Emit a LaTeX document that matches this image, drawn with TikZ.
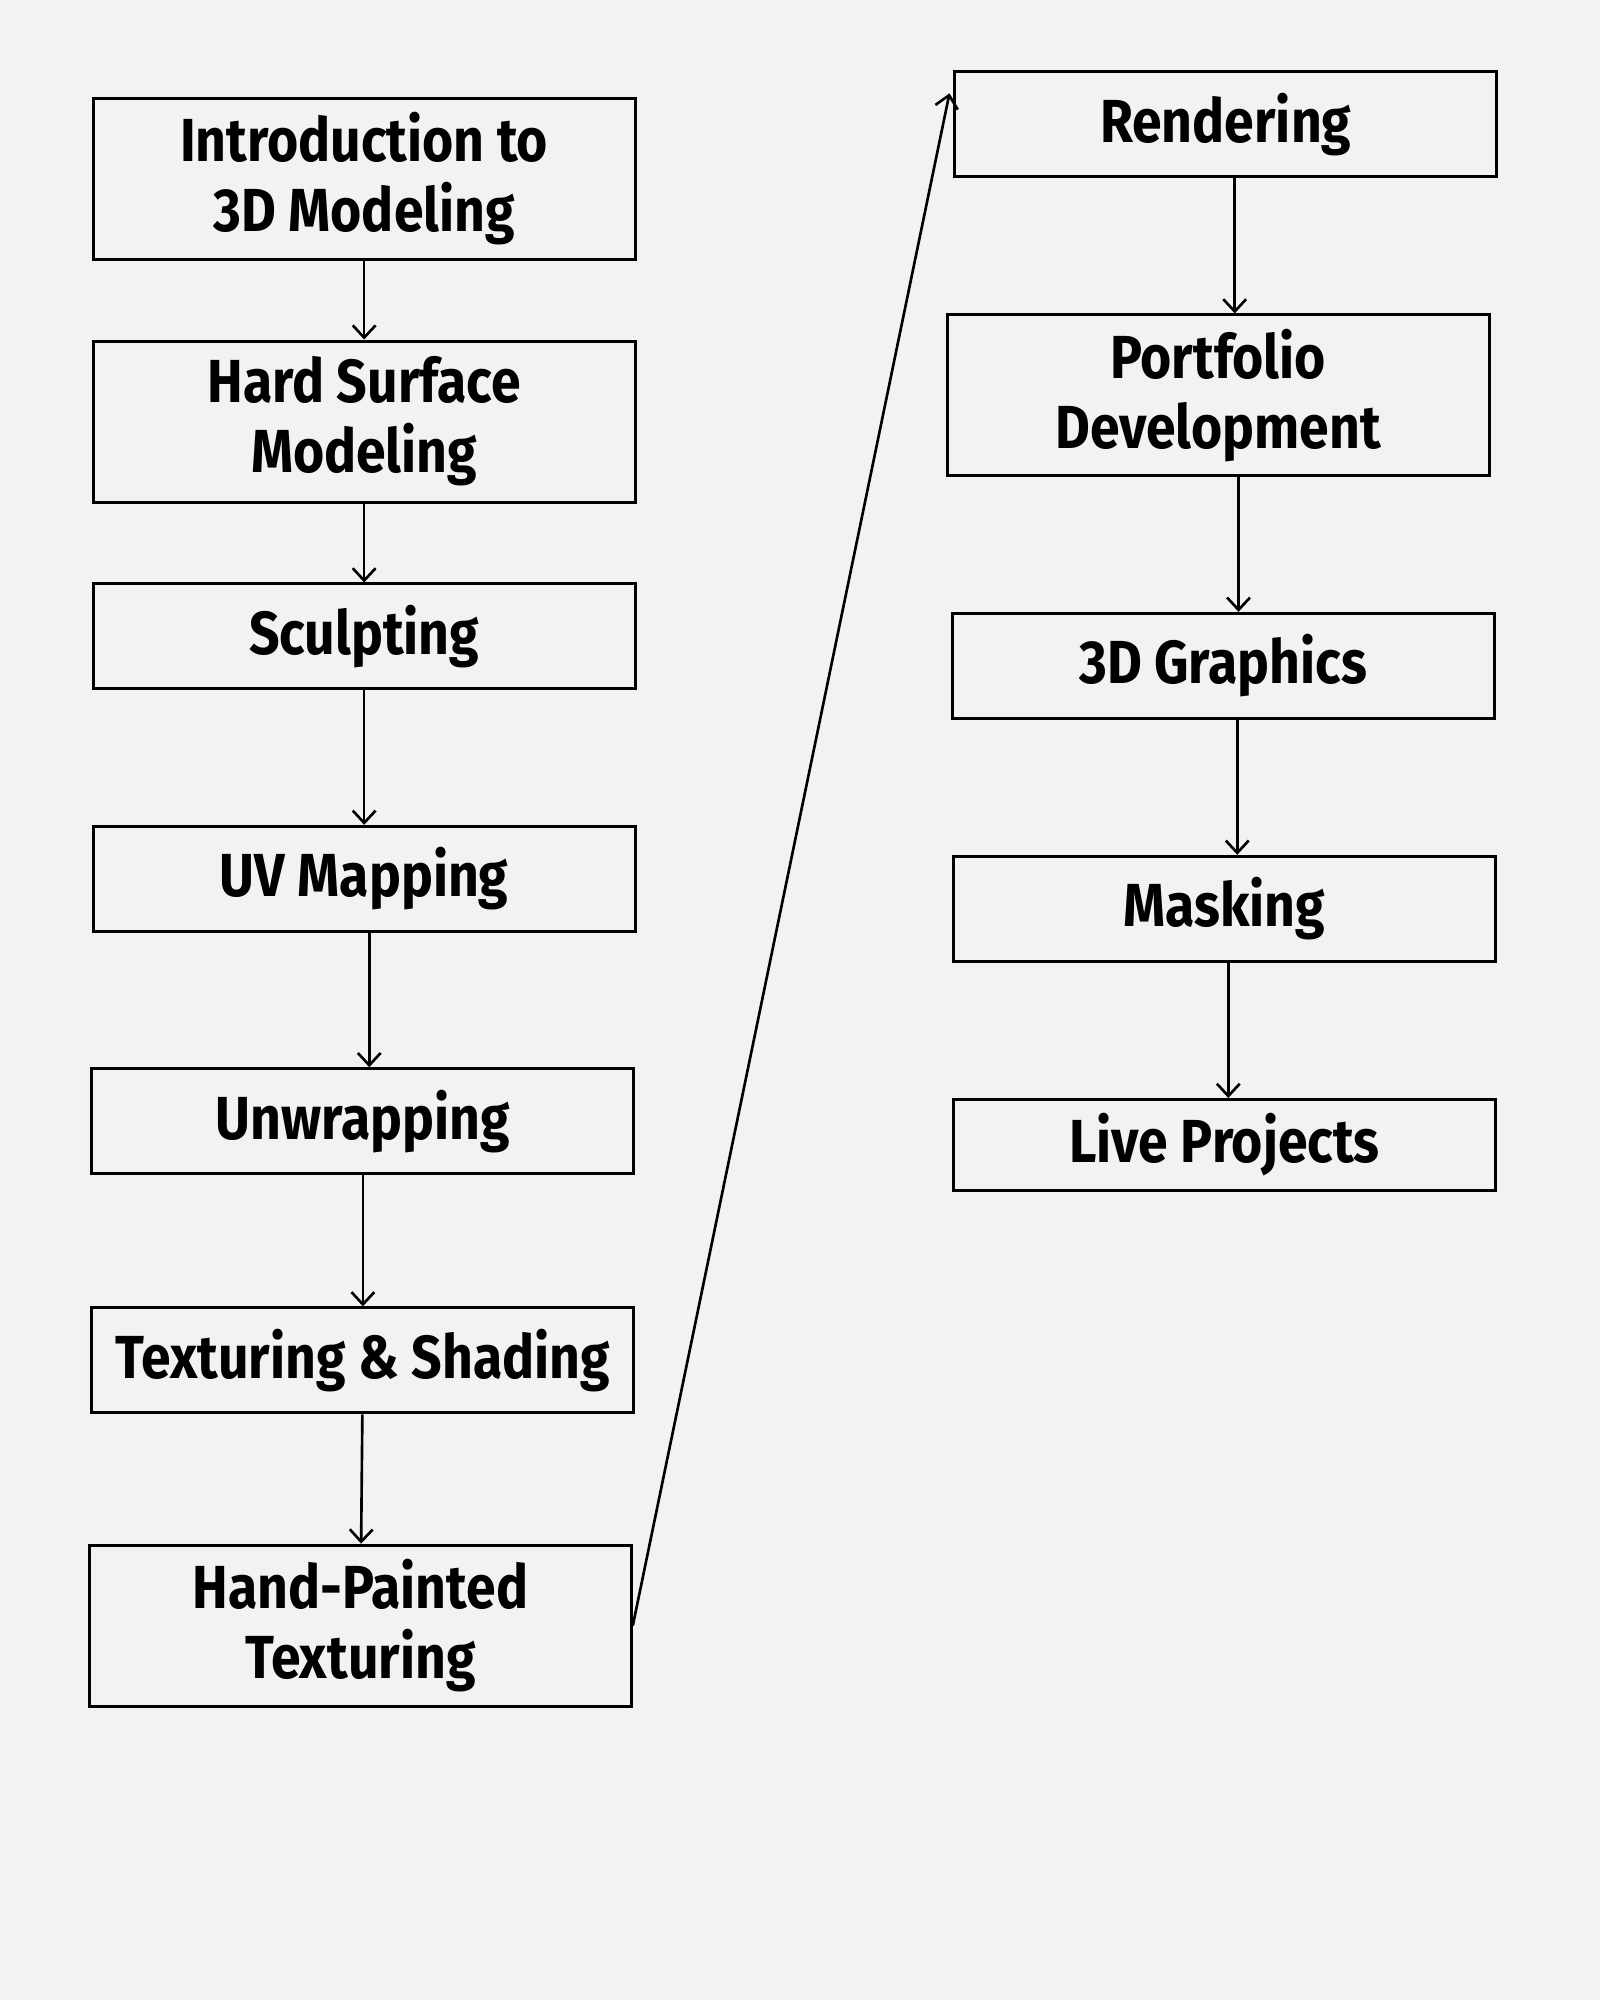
\documentclass[tikz,border=0pt]{standalone}
\usepackage{fontspec}
\setmainfont{Fira Sans}[FakeStretch=0.88]
\usetikzlibrary{positioning,calc,arrows.meta}
\definecolor{pagegray}{RGB}{242,242,242}

\begin{document}
\begin{tikzpicture}[
    x=0.012759cm, y=-0.012755cm,
    stage/.style={rectangle, draw=black, line width=0.85pt, minimum width=5.42cm, inner sep=0pt, align=center, font=\fontsize{17.3}{19.9}\selectfont\bfseries},
    twoline/.style={stage, minimum height=1.61cm},
    oneline/.style={stage, minimum height=1.05cm},
    flow/.style={-{Straight Barb[length=3.5pt,width=6.5pt]}, line width=0.75pt}
]

% Page
\fill[pagegray] (0,0) rectangle (1254,1568);
\useasboundingbox (0,0) rectangle (1254,1568);

% Left column
\node[twoline] (intro) at (285.5, 140) {Introduction to\\3D Modeling};
\node[twoline] (hardsurf) at (285.5, 330.5) {Hard Surface\\Modeling};
\node[oneline] (sculpt) at (285.5, 499) {Sculpting};
\node[oneline] (uvmap) at (285.5, 689) {UV Mapping};
\node[oneline] (unwrap) at (284.5, 879) {Unwrapping};
\node[oneline] (texshade) at (284.5, 1066.5) {Texturing \& Shading};
\node[twoline] (handpaint) at (282.5, 1274.5) {Hand-Painted\\Texturing};

% Right column
\node[oneline] (render) at (961, 97.5) {Rendering};
\node[twoline] (portfolio) at (955, 310) {Portfolio\\Development};
\node[oneline] (graphics) at (959, 522) {3D Graphics};
\node[oneline] (masking) at (960, 712.5) {Masking};
\node[stage, minimum height=0.906cm] (live) at (960, 897.5) {Live Projects};

% Connectors, left column
\draw[flow] (intro.south) coordinate (a1) -- (a1 |- hardsurf.north);
\draw[flow] (hardsurf.south) coordinate (a2) -- (a2 |- sculpt.north);
\draw[flow] (sculpt.south) coordinate (a3) -- (a3 |- uvmap.north);
\draw[flow] ($(uvmap.south)+(4,0)$) coordinate (a4) -- (a4 |- unwrap.north);
\draw[flow] (unwrap) -- (texshade);
\draw[flow] (texshade) -- (handpaint);

% Jump to the right column
\draw[flow] (handpaint.east) -- ($(render.north west)+(-3,18)$);

% Connectors, right column
\draw[flow] ($(render.south)+(7,0)$) coordinate (b1) -- (b1 |- portfolio.north);
\draw[flow] ($(portfolio.south)+(16,0)$) coordinate (b2) -- (b2 |- graphics.north);
\draw[flow] ($(graphics.south)+(11,0)$) coordinate (b3) -- (b3 |- masking.north);
\draw[flow] ($(masking.south)+(3,0)$) coordinate (b4) -- (b4 |- live.north);

\end{tikzpicture}
\end{document}
